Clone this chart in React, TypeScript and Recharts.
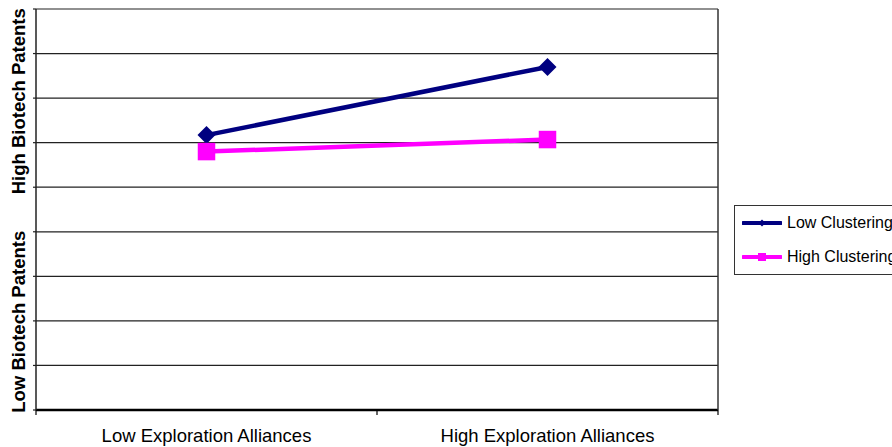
import React from "react";
import {
  LineChart,
  Line,
  XAxis,
  YAxis,
  CartesianGrid,
  Legend,
} from "recharts";

// Category labels along the x axis
const categories = ["Low Exploration Alliances", "High Exploration Alliances"];

// Series values (arbitrary units on a 0-9 scale)
const lowClustering = [6.17, 7.7];
const highClustering = [5.8, 6.07];

// Series display names
const seriesNames = ["Low Clustering", "High Clustering"];

// Y-axis section titles
const yTitleHigh = "High Biotech Patents";
const yTitleLow = "Low Biotech Patents";

const yTicks = [0, 1, 2, 3, 4, 5, 6, 7, 8, 9];
const xTicks = [0, 0.5, 1, 1.5, 2];

const NAVY = "#000080";
const MAGENTA = "#FF00FF";
const FONT = "'Liberation Sans', Arial, Helvetica, sans-serif";

const data = categories.map((c, i) => ({
  x: i + 0.5,
  category: c,
  low: lowClustering[i],
  high: highClustering[i],
}));

const DiamondDot = (props: any) => {
  const { cx, cy } = props;
  if (cx == null || cy == null) return null;
  const r = 9;
  return (
    <polygon
      points={`${cx},${cy - r} ${cx + r},${cy} ${cx},${cy + r} ${cx - r},${cy}`}
      fill={NAVY}
      stroke="none"
    />
  );
};

const SquareDot = (props: any) => {
  const { cx, cy } = props;
  if (cx == null || cy == null) return null;
  const s = 17.5;
  return <rect x={cx - s / 2} y={cy - s / 2} width={s} height={s} fill={MAGENTA} />;
};

// Bottom axis: tick marks at category boundaries, labels at category centres
const XTick = (props: any) => {
  const { x, y, payload } = props;
  const v = payload.value as number;
  if (Number.isInteger(v)) {
    return <line x1={x} x2={x} y1={y} y2={y + 5} stroke="#000" strokeWidth={1.2} />;
  }
  const label = categories[Math.floor(v)];
  return (
    <text
      x={x}
      y={y + 32}
      textAnchor="middle"
      fontFamily={FONT}
      fontSize={18.5}
      fill="#000"
    >
      {label}
    </text>
  );
};

const YTitles = (props: any) => {
  const vb = props.viewBox || {};
  const top = vb.y ?? 0;
  const h = vb.height ?? 0;
  const right = (vb.x ?? 35) + (vb.width ?? 1);
  const bx = right - 11;
  const yHigh = top + h * 0.23;
  const yLow = top + h * 0.78;
  const common = {
    textAnchor: "middle" as const,
    fontFamily: FONT,
    fontSize: 18.5,
    fontWeight: 700,
    fill: "#000",
  };
  return (
    <g>
      <text x={bx} y={yHigh} transform={`rotate(-90, ${bx}, ${yHigh})`} {...common}>
        {yTitleHigh}
      </text>
      <text x={bx} y={yLow} transform={`rotate(-90, ${bx}, ${yLow})`} {...common}>
        {yTitleLow}
      </text>
    </g>
  );
};

const LegendBox = (props: any) => {
  const payload = [...(props.payload || [])].sort(
    (a: any, b: any) => seriesNames.indexOf(a.value) - seriesNames.indexOf(b.value)
  );
  return (
    <div
      style={{
        border: "1.3px solid #333",
        width: 190,
        background: "#fff",
        boxSizing: "border-box",
        padding: "0 0 0 7px",
      }}
    >
      {payload.map((entry: any, i: number) => {
        const isLow = entry.dataKey === "low";
        const color = isLow ? NAVY : MAGENTA;
        return (
          <div
            key={i}
            style={{ height: 34, display: "flex", alignItems: "center" }}
          >
            <svg width={40} height={14} style={{ display: "block" }}>
              <line x1={1} x2={39} y1={7} y2={7} stroke={color} strokeWidth={4} strokeLinecap="round" />
              {isLow ? (
                <polygon points="20,3.5 23.5,7 20,10.5 16.5,7" fill={color} />
              ) : (
                <rect x={16} y={3} width={8} height={8} fill={color} />
              )}
            </svg>
            <span
              style={{
                fontFamily: FONT,
                fontSize: 16,
                color: "#000",
                marginLeft: 5,
                whiteSpace: "nowrap",
              }}
            >
              {entry.value}
            </span>
          </div>
        );
      })}
    </div>
  );
};

export default function App() {
  return (
    <div style={{ position: "absolute", left: 0, top: 0, width: 892, height: 447, background: "#fff", overflow: "hidden" }}>
      <LineChart
        width={892}
        height={447}
        data={data}
        margin={{ top: 9, right: 173, bottom: 0, left: 35 }}
      >
        <CartesianGrid
          yAxisId="left"
          horizontal
          vertical={false}
          stroke="#222"
          strokeWidth={1.2}
        />
        <XAxis
          dataKey="x"
          type="number"
          domain={[0, 2]}
          ticks={xTicks}
          interval={0}
          height={37}
          tickLine={false}
          tickSize={0}
          tickMargin={0}
          tick={<XTick />}
          axisLine={{ stroke: "#000", strokeWidth: 2.5 }}
        />
        <YAxis
          yAxisId="left"
          type="number"
          domain={[0, 9]}
          ticks={yTicks}
          interval={0}
          width={1}
          tickSize={3}
          tickLine={{ stroke: "#222", strokeWidth: 1.2 }}
          tick={() => <g />}
          axisLine={{ stroke: "#222", strokeWidth: 1.5 }}
          label={<YTitles />}
        />
        <YAxis
          yAxisId="right"
          orientation="right"
          type="number"
          domain={[0, 9]}
          width={1}
          tick={false}
          tickLine={false}
          axisLine={{ stroke: "#333", strokeWidth: 1.5 }}
        />
        <Legend
          layout="vertical"
          align="center"
          verticalAlign="middle"
          content={<LegendBox />}
          wrapperStyle={{ left: 734, top: 205, width: 190 }}
        />
        <Line
          yAxisId="left"
          dataKey="low"
          name={seriesNames[0]}
          stroke={NAVY}
          strokeWidth={4.5}
          dot={<DiamondDot />}
          activeDot={false}
          isAnimationActive={false}
        />
        <Line
          yAxisId="left"
          dataKey="high"
          name={seriesNames[1]}
          stroke={MAGENTA}
          strokeWidth={4.5}
          dot={<SquareDot />}
          activeDot={false}
          isAnimationActive={false}
        />
      </LineChart>
    </div>
  );
}
